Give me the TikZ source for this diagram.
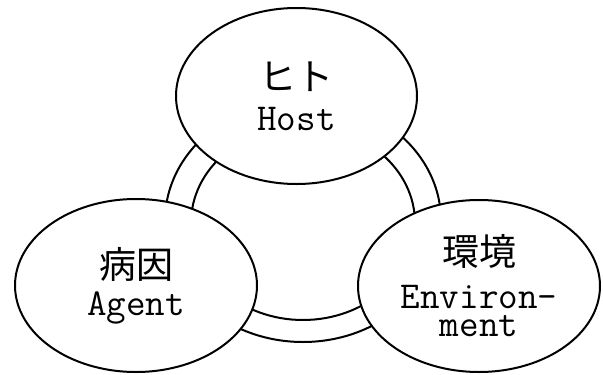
\documentclass[tikz,border=0pt]{standalone}
\usepackage{fontspec}
\newfontfamily\jpfont{Noto Sans CJK JP}
\usetikzlibrary{shapes.geometric}
\begin{document}
\begin{tikzpicture}[x=1pt,y=-1pt,
  outline/.style={line width=2pt},
  factor/.style={ellipse, draw, outline, fill=white, inner sep=0pt, align=center,
    font=\ttfamily\fontsize{38}{28}\selectfont}]
\newcommand\kanji[1]{{\jpfont\fontsize{37}{37}\selectfont #1}}
\useasboundingbox (0,0) rectangle (603,375);
% double ring linking the three factors
\coordinate (ringout) at (303,221);
\coordinate (ringin) at (303,223);
\draw[outline] (ringout) ellipse [x radius=138pt, y radius=121pt];
\draw[outline] (ringin) ellipse [x radius=112pt, y radius=97pt];
% the three factors
\node[factor, minimum width=241pt, minimum height=176pt] (host) at (296.5,96)
  {\kanji{ヒト}\\[12pt]Host};
\node[factor, minimum width=242pt, minimum height=173pt] (agent) at (136,285.5)
  {\kanji{病因}\\[9pt]Agent};
\node[factor, minimum width=242pt, minimum height=172pt] (environment) at (479,286)
  {\kanji{環境}\\[15pt]Environ-\\ment};
\end{tikzpicture}
\end{document}
